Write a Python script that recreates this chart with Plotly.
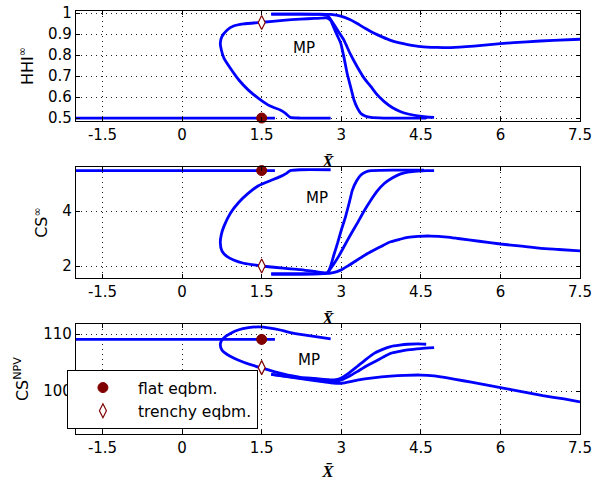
import plotly.graph_objects as go

# ---------------- data ----------------
x_tick_vals = [-1.5, 0, 1.5, 3, 4.5, 6, 7.5]
x_tick_text = ["-1.5", "0", "1.5", "3", "4.5", "6", "7.5"]
hhi_tick_vals = [0.5, 0.6, 0.7, 0.8, 0.9, 1.0]
hhi_tick_text = ["0.5", "0.6", "0.7", "0.8", "0.9", "1"]
cs_tick_vals = [2, 4]
cs_tick_text = ["2", "4"]
npv_tick_vals = [100, 110]
npv_tick_text = ["100", "110"]

# flat branch
flat_x = [-2.0, 1.75]
flat_hhi = [0.5, 0.5]
flat_cs = [5.47, 5.47]
flat_npv = [109.05, 109.05]

# S-shaped branch (shared x along the fold)
s_x = [2.80, 2.23, 2.04, 1.95, 1.85, 1.66, 1.44, 1.25, 1.07, 0.91, 0.79, 0.74,
       0.72, 0.75, 0.85, 0.97, 1.16, 1.51, 1.90, 2.23, 2.50, 2.74]
s_hhi = [0.5, 0.5, 0.503, 0.522, 0.538, 0.557, 0.594, 0.633, 0.681, 0.737, 0.784, 0.824,
         0.856, 0.887, 0.919, 0.938, 0.948, 0.956, 0.965, 0.971, 0.974, 0.976]
s_cs = [5.5, 5.5, 5.47, 5.35, 5.25, 5.10, 4.92, 4.65, 4.32, 3.92, 3.45, 3.15,
        2.85, 2.55, 2.34, 2.22, 2.10, 2.0, 1.92, 1.87, 1.80, 1.76]
s_npv = [109.15, 109.95, 110.25, 110.45, 110.7, 111.05, 111.25, 111.1, 110.75, 110.1, 109.35, 108.8,
         108.1, 107.2, 106.4, 105.8, 105.05, 104.0, 103.0, 102.4, 102.2, 102.0]

# continuation of the S branch past X=2.74
s_tail_hhi_x = [2.80, 2.86, 2.93, 2.99, 3.05, 3.11, 3.18, 3.24, 3.30, 3.37, 3.45, 3.56, 3.8, 4.2, 4.6]
s_tail_hhi = [0.965, 0.93, 0.89, 0.856, 0.79, 0.713, 0.645, 0.586, 0.55, 0.522, 0.51, 0.503, 0.5, 0.5, 0.5]
s_tail_cs_x = [2.80, 2.86, 2.93, 3.00, 3.08, 3.15, 3.21, 3.29, 3.37, 3.46, 3.56, 4.0, 4.56]
s_tail_cs = [2.0, 2.4, 2.83, 3.3, 3.79, 4.3, 4.76, 5.1, 5.31, 5.42, 5.47, 5.49, 5.49]
s_tail_npv_x = [2.80, 2.90, 3.00, 3.15, 3.30, 3.46, 3.62, 3.78, 3.93, 4.10, 4.25, 4.45, 4.60]
s_tail_npv = [101.95, 102.0, 102.3, 103.2, 104.3, 105.5, 106.6, 107.3, 107.8, 108.05, 108.2, 108.25, 108.2]

# second MP branch (steep, ends at X=4.75)
m_hhi_x = [1.68, 2.2, 2.6, 2.75, 2.85, 2.95, 3.05, 3.17, 3.30, 3.43, 3.56, 3.68, 3.81, 3.96, 4.12, 4.28, 4.44, 4.6, 4.75]
m_hhi = [0.995, 0.995, 0.993, 0.985, 0.95, 0.91, 0.871, 0.805, 0.744, 0.69, 0.649, 0.61, 0.578, 0.55, 0.530, 0.518, 0.51, 0.505, 0.503]
m_cs_x = [1.68, 2.2, 2.6, 2.74, 2.85, 2.95, 3.05, 3.17, 3.30, 3.43, 3.56, 3.68, 3.81, 3.96, 4.12, 4.28, 4.44, 4.6, 4.75]
m_cs = [1.71, 1.71, 1.72, 1.76, 2.05, 2.35, 2.70, 3.12, 3.55, 4.0, 4.4, 4.73, 5.0, 5.2, 5.35, 5.42, 5.45, 5.47, 5.47]
m_npv_x = [1.68, 2.2, 2.6, 2.8, 2.99, 3.15, 3.3, 3.46, 3.62, 3.78, 3.93, 4.1, 4.25, 4.5, 4.75]
m_npv = [102.9, 102.3, 101.9, 101.75, 101.9, 102.6, 103.4, 104.3, 105.1, 105.9, 106.6, 106.95, 107.2, 107.45, 107.6]

# long MP branch (to X=7.5)
l_hhi_x = [1.68, 2.2, 2.6, 2.8, 2.99, 3.15, 3.3, 3.45, 3.62, 3.78, 3.93, 4.1, 4.25, 4.5, 4.8, 5.07, 5.5, 6.0, 6.5, 7.0, 7.5]
l_hhi = [0.995, 0.995, 0.995, 0.993, 0.985, 0.97, 0.95, 0.927, 0.903, 0.885, 0.87, 0.858, 0.85, 0.84, 0.836, 0.835, 0.842, 0.854, 0.863, 0.87, 0.875]
l_cs_x = [1.68, 2.2, 2.67, 2.85, 2.99, 3.15, 3.3, 3.45, 3.62, 3.78, 3.93, 4.1, 4.25, 4.45, 4.69, 5.0, 5.2, 5.6, 6.0, 6.4, 6.76, 7.1, 7.5]
l_cs = [1.71, 1.71, 1.72, 1.76, 1.85, 2.03, 2.22, 2.40, 2.58, 2.74, 2.88, 2.97, 3.04, 3.08, 3.09, 3.05, 3.0, 2.9, 2.8, 2.72, 2.64, 2.6, 2.55]
l_npv_x = [1.68, 2.2, 2.6, 2.8, 3.0, 3.3, 3.6, 3.93, 4.2, 4.5, 4.75, 5.0, 5.3, 5.6, 6.0, 6.4, 6.8, 7.2, 7.5]
l_npv = [102.9, 102.2, 101.7, 101.45, 101.35, 101.9, 102.3, 102.6, 102.75, 102.8, 102.65, 102.3, 101.8, 101.3, 100.6, 99.9, 99.2, 98.6, 98.1]

# equilibria
eq_x = [1.5]
flat_eq = {"hhi": [0.5], "cs": [5.47], "npv": [109.05]}
trenchy_eq = {"hhi": [0.955], "cs": [2.0], "npv": [104.1]}

# MP labels
mp_x = [2.29, 2.55, 2.39]
mp_y = [0.833, 4.46, 105.4]

# ---------------- figure ----------------
BLUE = "#0000FF"
RED = "#800000"
LW = 2.8
FONT = "DejaVu Sans, Verdana, sans-serif"

fig = go.Figure()

panels = [
    ("x", "y", flat_hhi, s_hhi, s_tail_hhi_x, s_tail_hhi, m_hhi_x, m_hhi, l_hhi_x, l_hhi, "hhi"),
    ("x2", "y2", flat_cs, s_cs, s_tail_cs_x, s_tail_cs, m_cs_x, m_cs, l_cs_x, l_cs, "cs"),
    ("x3", "y3", flat_npv, s_npv, s_tail_npv_x, s_tail_npv, m_npv_x, m_npv, l_npv_x, l_npv, "npv"),
]

line_style = dict(color=BLUE, width=LW, shape="spline", smoothing=0.5)

for i, (xa, ya, fy, sy, tx, ty, mx, my, lx, ly, key) in enumerate(panels):
    fig.add_trace(go.Scatter(x=flat_x, y=fy, mode="lines", line=line_style, xaxis=xa, yaxis=ya, showlegend=False, hoverinfo="skip"))
    fig.add_trace(go.Scatter(x=s_x + tx, y=sy + ty, mode="lines", line=line_style, xaxis=xa, yaxis=ya, showlegend=False, hoverinfo="skip"))
    fig.add_trace(go.Scatter(x=mx, y=my, mode="lines", line=line_style, xaxis=xa, yaxis=ya, showlegend=False, hoverinfo="skip"))
    fig.add_trace(go.Scatter(x=lx, y=ly, mode="lines", line=line_style, xaxis=xa, yaxis=ya, showlegend=False, hoverinfo="skip"))
    fig.add_trace(go.Scatter(x=eq_x, y=flat_eq[key], mode="markers", name="flat eqbm.", legendgroup="flat",
                             marker=dict(symbol="circle", size=10, color=RED, line=dict(color=RED, width=1)),
                             xaxis=xa, yaxis=ya, showlegend=(i == 0), cliponaxis=False))
    fig.add_trace(go.Scatter(x=eq_x, y=trenchy_eq[key], mode="markers", name="trenchy eqbm.", legendgroup="trenchy",
                             marker=dict(symbol="diamond-tall", size=10, color="white", line=dict(color=RED, width=1.2)),
                             xaxis=xa, yaxis=ya, showlegend=(i == 0), cliponaxis=False))

for j, (xa, ya) in enumerate([("x", "y"), ("x2", "y2"), ("x3", "y3")]):
    fig.add_annotation(x=mp_x[j], y=mp_y[j], xref=xa, yref=ya, text="MP", showarrow=False,
                       font=dict(family=FONT, size=15, color="black"))

axis_common = dict(
    showline=True, linecolor="black", linewidth=1.2, mirror="allticks",
    ticks="inside", ticklen=4, tickcolor="black", tickwidth=1,
    showgrid=True, gridcolor="#222", gridwidth=1, griddash="1px,4px",
    zeroline=False, tickfont=dict(family=FONT, size=15, color="black"),
    automargin=False,
)

domains = [[0.740, 1.0], [0.3688, 0.6312], [0.0, 0.260]]
y_ranges = [[0.486, 1.0095], [1.564, 5.6], [92.46, 111.75]]
y_ticks = [(hhi_tick_vals, hhi_tick_text), (cs_tick_vals, cs_tick_text), (npv_tick_vals, npv_tick_text)]
y_titles = ["HHI<sup>∞</sup>", "CS<sup>∞</sup>", "CS<sup>NPV</sup>"]

for k in range(3):
    sfx = "" if k == 0 else str(k + 1)
    fig.layout["xaxis" + sfx] = dict(
        axis_common, domain=[0, 1], anchor="y" + sfx, range=[-2, 7.5],
        tickvals=x_tick_vals, ticktext=x_tick_text,
        title=dict(text="<b><i>X̄</i></b>", standoff=12,
                   font=dict(family="Liberation Serif, DejaVu Serif, serif", size=17, color="black")),
    )
    fig.layout["yaxis" + sfx] = dict(
        axis_common, domain=domains[k], anchor="x" + sfx, range=y_ranges[k],
        tickvals=y_ticks[k][0], ticktext=y_ticks[k][1],
        title=dict(text=y_titles[k], standoff=10, font=dict(family=FONT, size=16, color="black")),
    )

fig.update_layout(
    width=594, height=481,
    margin=dict(l=76, r=14, t=11, b=47),
    paper_bgcolor="white", plot_bgcolor="white",
    font=dict(family=FONT, size=15, color="black"),
    legend=dict(x=-0.018, y=0.1513, xanchor="left", yanchor="top",
                bgcolor="white", bordercolor="black", borderwidth=1,
                font=dict(family=FONT, size=15.5, color="black"),
                itemwidth=60, tracegroupgap=0),
)

fig.write_html("out.html", config={"displayModeBar": False},
               post_script="document.body.style.margin='0';document.body.style.overflow='hidden';")
